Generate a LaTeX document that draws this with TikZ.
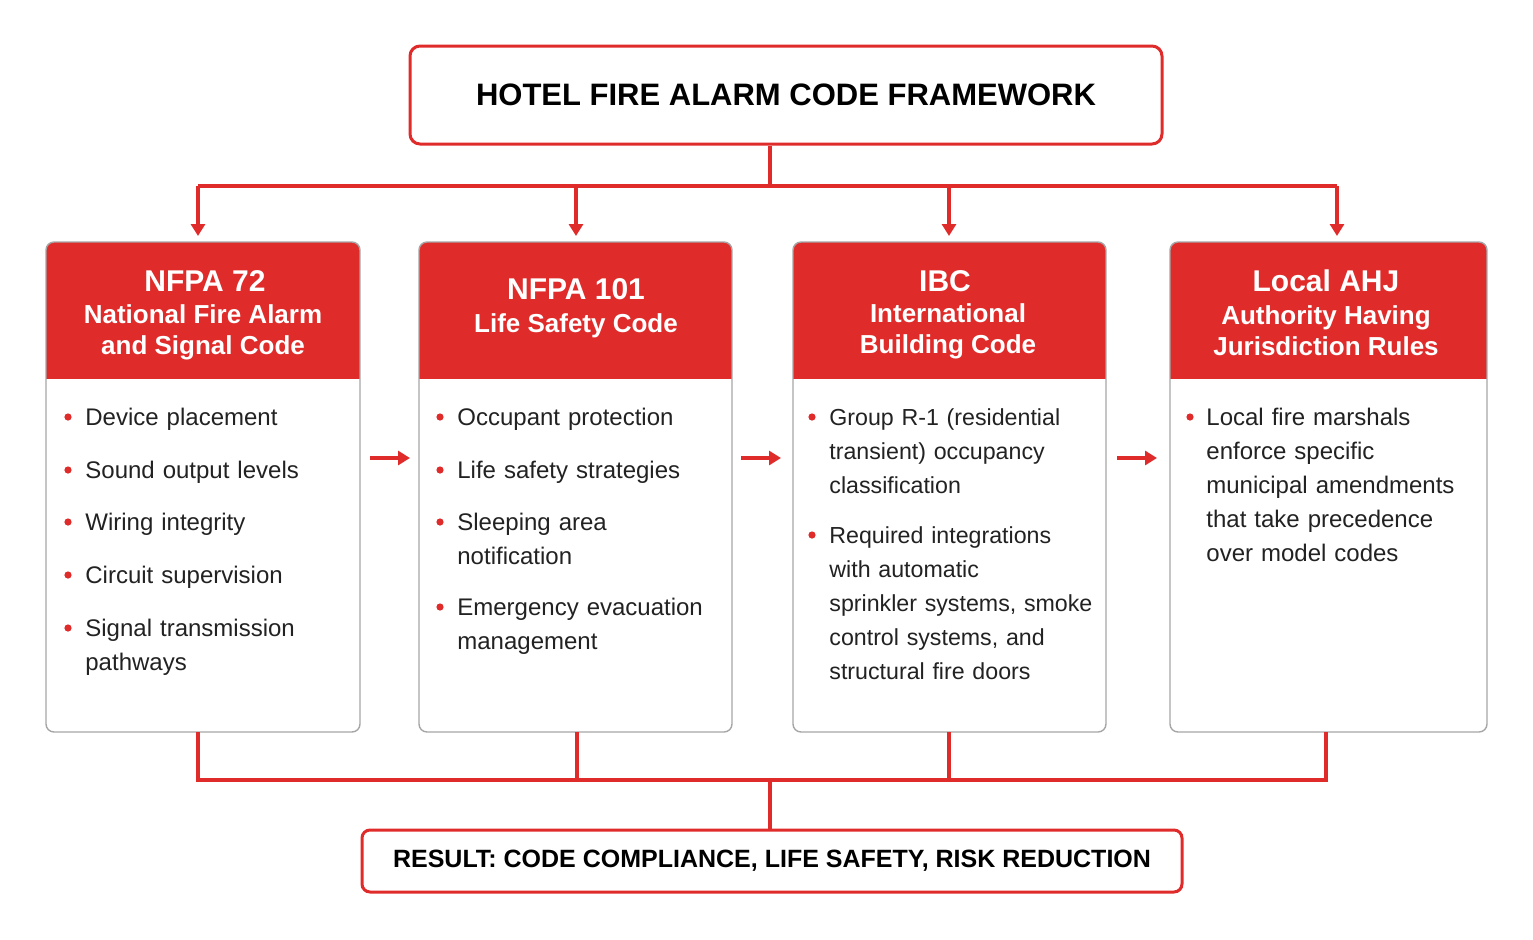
\documentclass[tikz,border=0pt]{standalone}
\usepackage{fontspec}
\setmainfont{Liberation Sans}
\usetikzlibrary{arrows.meta}
\definecolor{fred}{HTML}{E02B2B}
\definecolor{ftext}{HTML}{222222}
\begin{document}
\begin{tikzpicture}[x=0.5pt,y=-0.5pt,
  conn/.style={fred,line width=1.6pt},
  arr/.style={conn,-{Triangle[length=6pt,width=7pt]}},
  card/.style={draw=gray!70,line width=0.7pt,rounded corners=4pt,fill=white},
  head/.style={fill=fred},
  htitle/.style={white,font=\bfseries\fontsize{15}{17}\selectfont,align=center},
  hsub/.style={white,font=\bfseries\fontsize{13}{15.5}\selectfont,align=center},
  item/.style={anchor=base west,text=ftext,font=\fontsize{12}{17}\selectfont,text width=#1,align=left,inner sep=0pt},
  item/.default=130pt,
  dot/.style={circle,fill=fred,inner sep=0pt,minimum size=3.6pt}]
\useasboundingbox (0,0) rectangle (1533,939);
% title
\node[draw=fred,line width=1.5pt,rounded corners=5pt,minimum width=376pt,minimum height=49pt,
  font=\bfseries\fontsize{15.5}{18}\selectfont] (top) at (786,95) {HOTEL FIRE ALARM CODE FRAMEWORK};
\coordinate (tj) at (770,186);
\draw[conn] (top.south -| tj) -- (tj);
\coordinate (l1) at (198,186); \coordinate (l4) at (1337,186);
\draw[conn] (l1) -- (l4);
\coordinate (a1) at (198,236);\coordinate (a2) at (576,236);\coordinate (a3) at (949,236);\coordinate (a4) at (1337,236);
\draw[arr] (l1) -- (a1);
\draw[arr] (576,186) -- (a2);
\draw[arr] (949,186) -- (a3);
\draw[arr] (l4) -- (a4);
% cards
\foreach \n/\xa/\xb in {c1/46/360,c2/419/732,c3/793/1106,c4/1170/1487}{
  \begin{scope}
  \clip[rounded corners=4pt] (\xa,242) rectangle (\xb,732);
  \fill[white] (\xa,242) rectangle (\xb,732);
  \fill[fred] (\xa,242) rectangle (\xb,379);
  \end{scope}
  \draw[card,fill=none] (\xa,242) rectangle (\xb,732);
  \coordinate (\n) at ({(\xa+\xb)/2},732);
}
% headers
\node[htitle] (h1) at (205,281) {NFPA 72};
\node[hsub] (s1) at (203,332) {National Fire Alarm\\and Signal Code};
\node[htitle] (h2) at (576,289) {NFPA 101};
\node[hsub] (s2) at (576,326) {Life Safety Code};
\node[htitle] (h3) at (945,281) {IBC};
\node[hsub] (s3) at (948,331) {International\\Building Code};
\node[htitle] (h4) at (1326,281) {Local AHJ};
\node[hsub] (s4) at (1326,331) {Authority Having\\Jurisdiction Rules};
% bullets card 1
\foreach \y/\t [count=\i] in {417/Device placement,470/Sound output levels,522/Wiring integrity,575/Circuit supervision,628/{Signal transmission\\pathways}}{
  \node[dot] (d1\i) at (68,\y) {};
  \node[item] (t1\i) at (85,\y+8) {\t};
}
\foreach \y/\t [count=\i] in {417/Occupant protection,470/Life safety strategies,522/{Sleeping area\\notification},607/{Emergency evacuation\\management}}{
  \node[dot] (d2\i) at (440,\y) {};
  \node[item] (t2\i) at (457,\y+8) {\t};
}
\foreach \y/\t [count=\i] in {417/{Group R-1 (residential\\transient) occupancy\\classification},535/{Required integrations\\with automatic\\sprinkler systems, smoke\\control systems, and\\structural fire doors}}{
  \node[dot] (d3\i) at (812,\y) {};
  \node[item=150pt,font=\fontsize{11.6}{17}\selectfont] (t3\i) at (829,\y+8) {\t};
}
\node[dot] (d41) at (1190,417) {};
\node[item=136pt] (t41) at (1206,425) {Local fire marshals\\enforce specific\\municipal amendments\\that take precedence\\over model codes};
% side arrows
\foreach \x/\n in {370/1,741/2,1117/3}{
  \coordinate (sa\n) at (\x,458); \coordinate (sb\n) at (\x+40,458);
  \draw[arr] (sa\n) -- (sb\n);
}
% bottom
\coordinate (b1) at (198,780); \coordinate (b4) at (1326,780); \coordinate (bj) at (770,780);
\draw[conn] (198,732) -- (b1) -- (b4) -- (1326,732);
\draw[conn] (577,732) -- (577,780);
\draw[conn] (949,732) -- (949,780);
\node[draw=fred,line width=1.5pt,rounded corners=4pt,minimum width=410pt,minimum height=31pt,
  font=\bfseries\fontsize{12.5}{15}\selectfont] (res) at (772,861) {RESULT: CODE COMPLIANCE, LIFE SAFETY, RISK REDUCTION};
\draw[conn] (bj) -- (res.north -| bj);
\end{tikzpicture}
\end{document}
